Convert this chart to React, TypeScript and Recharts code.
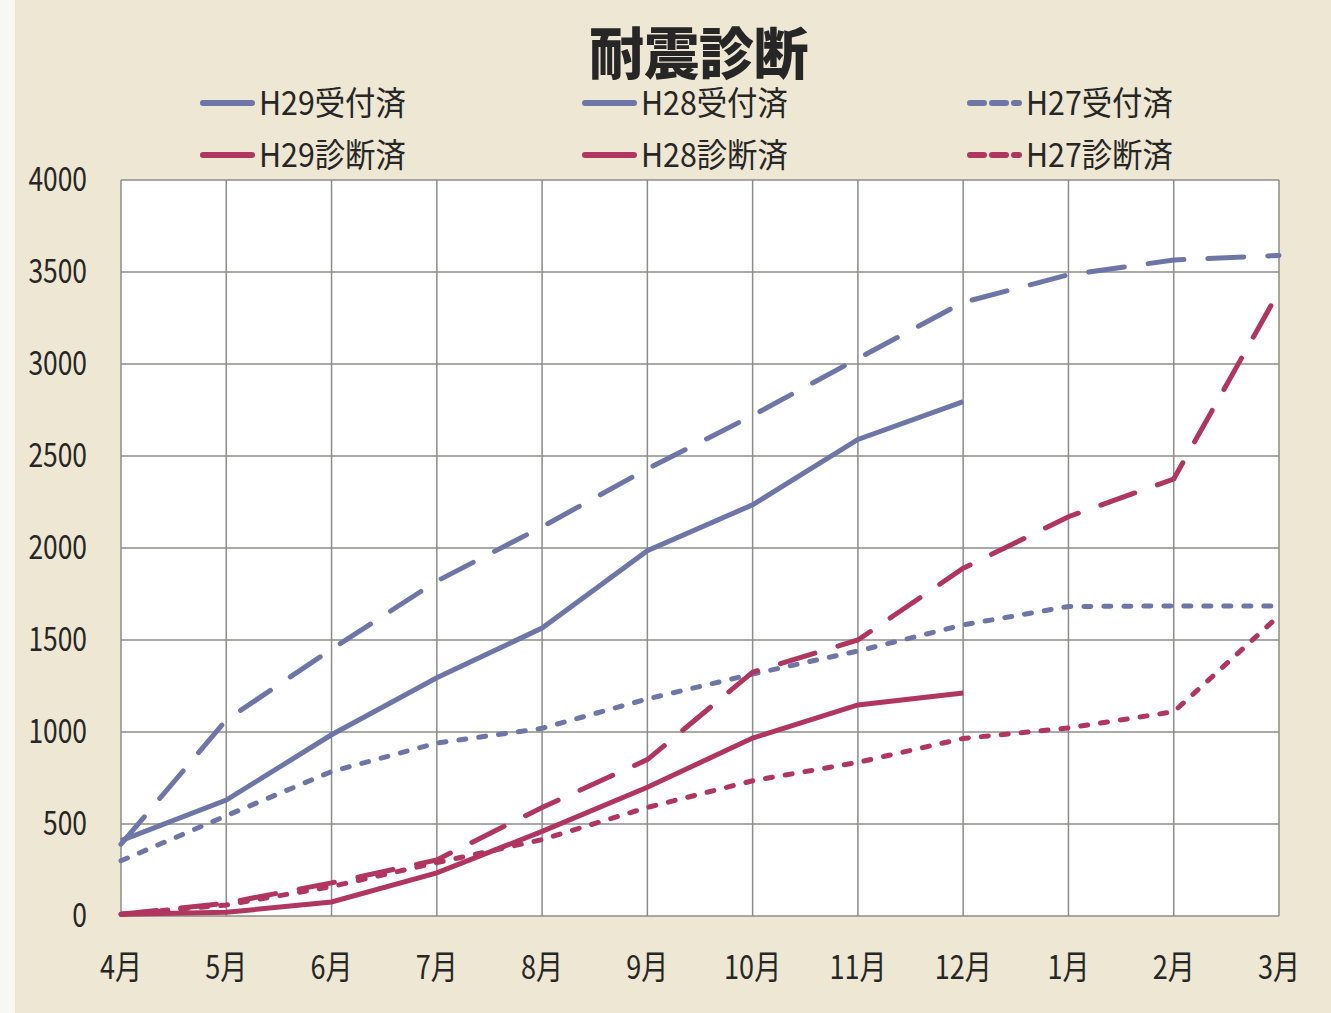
import { CartesianGrid, Line, LineChart, XAxis, YAxis } from "recharts";

const months = ["4月", "5月", "6月", "7月", "8月", "9月", "10月", "11月", "12月", "1月", "2月", "3月"];
const yTicks = [0, 500, 1000, 1500, 2000, 2500, 3000, 3500, 4000];

const h29Recv = [410, 630, 985, 1295, 1565, 1985, 2235, 2590, 2795, null, null, null];
const h28Recv = [390, 1065, 1450, 1820, 2115, 2430, 2720, 3030, 3335, 3485, 3565, 3590];
const h27Recv = [300, 545, 785, 940, 1020, 1180, 1315, 1440, 1582, 1682, 1685, 1685];
const h29Diag = [10, 20, 76, 234, 460, 700, 967, 1147, 1212, null, null, null];
const h28Diag = [10, 70, 180, 305, 590, 850, 1325, 1500, 1890, 2170, 2375, 3395];
const h27Diag = [10, 60, 160, 290, 415, 590, 735, 835, 965, 1022, 1110, 1632];

const data = months.map((m, i) => ({
  month: m,
  h29Recv: h29Recv[i],
  h28Recv: h28Recv[i],
  h27Recv: h27Recv[i],
  h29Diag: h29Diag[i],
  h28Diag: h28Diag[i],
  h27Diag: h27Diag[i],
}));

const BLUE = "#6e76a8";
const RED = "#b0355f";
const LONG = "36 24";
const SHORT = "7 13";
const font = "'Noto Sans CJK JP', 'Noto Sans', sans-serif";
const INK = "#262626";

const legendItems = [
  { label: "H29受付済", color: BLUE, dash: undefined, x: 200, y: 103 },
  { label: "H29診断済", color: RED, dash: undefined, x: 200, y: 155 },
  { label: "H28受付済", color: BLUE, dash: undefined, x: 582, y: 103 },
  { label: "H28診断済", color: RED, dash: undefined, x: 582, y: 155 },
  { label: "H27受付済", color: BLUE, dash: "14 8", x: 967, y: 103 },
  { label: "H27診断済", color: RED, dash: "14 8", x: 967, y: 155 },
];

// narrow, tall tick text like the scanned original
const YTick = (props: any) => {
  const { x, y, payload } = props;
  return (
    <g transform={`translate(${x},${y})`}>
      <text transform="scale(0.8,1)" textAnchor="end" dy={11} fontSize={33} fill={INK} fontFamily={font}>
        {payload.value}
      </text>
    </g>
  );
};

const XTick = (props: any) => {
  const { x, y, payload } = props;
  return (
    <g transform={`translate(${x},${y})`}>
      <text transform="scale(0.82,1)" textAnchor="middle" dy={23} fontSize={33} fill={INK} fontFamily={font}>
        {payload.value}
      </text>
    </g>
  );
};

export default function App() {
  return (
    <div style={{ position: "absolute", left: 0, top: 0, width: 1331, height: 1013, background: "#eee7d3", fontFamily: font }}>
      <div style={{ position: "absolute", left: 0, top: 0, width: 15, height: 1013, background: "#f7f7f4" }} />
      <svg style={{ position: "absolute", left: 0, top: 0 }} width={1331} height={200}>
        <text transform="translate(699,74) scale(0.98,1)" textAnchor="middle" fontSize={56} fontWeight={900} fill={INK} fontFamily={font}>
          耐震診断
        </text>
        {legendItems.map((it) => (
          <g key={it.label}>
            <line x1={it.x + 3} x2={it.x + 52} y1={it.y} y2={it.y} stroke={it.color} strokeWidth={6} strokeLinecap="round" strokeDasharray={it.dash} />
            <text transform={`translate(${it.x + 59},${it.y + 12}) scale(0.92,1)`} fontSize={33} fill={INK} fontFamily={font}>
              {it.label}
            </text>
          </g>
        ))}
      </svg>
      <div style={{ position: "absolute", left: 0, top: 0 }}>
        <LineChart width={1331} height={1013} data={data} margin={{ top: 180, right: 52, bottom: 37, left: 0 }}>
          <CartesianGrid stroke="#8c8c88" strokeWidth={1.5} fill="#ffffff" />
          <XAxis
            dataKey="month"
            tickLine={false}
            axisLine={false}
            tickSize={0}
            tickMargin={40}
            height={60}
            interval={0}
            padding={{ left: 0, right: 0 }}
            tick={<XTick />}
          />
          <YAxis
            domain={[0, 4000]}
            ticks={yTicks}
            width={121}
            tickLine={false}
            axisLine={false}
            tickSize={0}
            tickMargin={34}
            interval={0}
            tick={<YTick />}
          />
          <Line dataKey="h27Recv" stroke={BLUE} strokeWidth={5} strokeDasharray={SHORT} strokeLinecap="round" dot={false} isAnimationActive={false} />
          <Line dataKey="h27Diag" stroke={RED} strokeWidth={5} strokeDasharray={SHORT} strokeLinecap="round" dot={false} isAnimationActive={false} />
          <Line dataKey="h28Recv" stroke={BLUE} strokeWidth={5} strokeDasharray={LONG} strokeLinecap="round" dot={false} isAnimationActive={false} />
          <Line dataKey="h28Diag" stroke={RED} strokeWidth={5} strokeDasharray={LONG} strokeLinecap="round" dot={false} isAnimationActive={false} />
          <Line dataKey="h29Recv" stroke={BLUE} strokeWidth={5} dot={false} isAnimationActive={false} />
          <Line dataKey="h29Diag" stroke={RED} strokeWidth={5} dot={false} isAnimationActive={false} />
        </LineChart>
      </div>
    </div>
  );
}
